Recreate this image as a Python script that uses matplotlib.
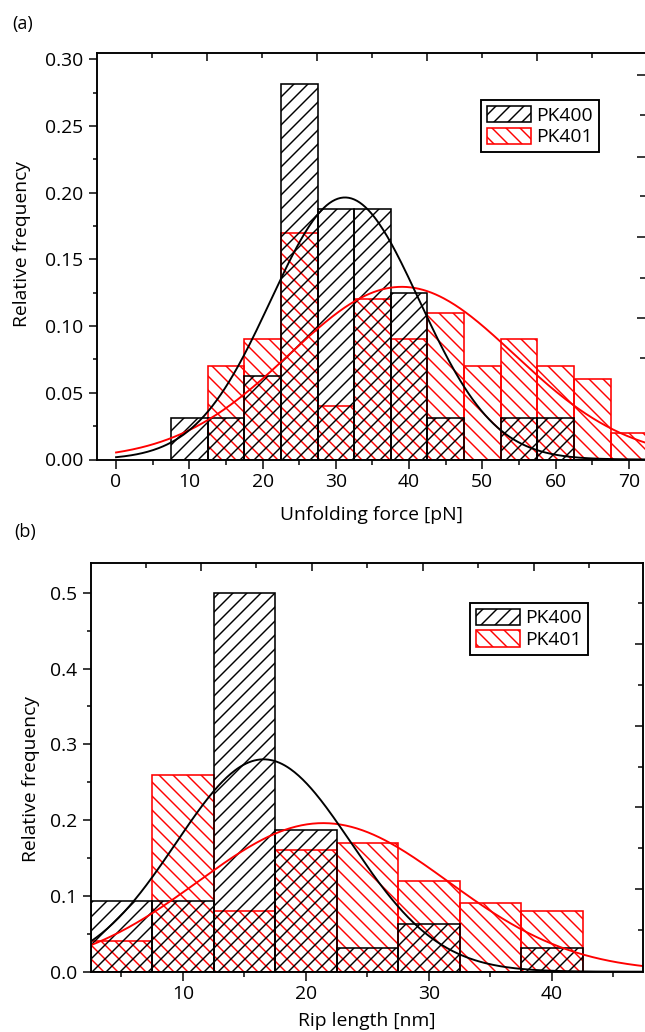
import numpy as np
import matplotlib
matplotlib.use('Agg')
from matplotlib import pyplot as plt
from matplotlib.ticker import FixedLocator, MultipleLocator

# (a) unfolding force, bins of 5 pN
force_centers = [10, 15, 20, 25, 30, 35, 40, 45, 50, 55, 60, 65, 70]
force_pk400 = [1/32, 1/32, 2/32, 9/32, 6/32, 6/32, 4/32, 1/32, 0, 1/32, 1/32, 0, 0]
force_pk401 = [0, 0.07, 0.09, 0.17, 0.04, 0.12, 0.09, 0.11, 0.07, 0.09, 0.07, 0.06, 0.02]

# (b) rip length, bins of 5 nm
rip_centers = [5, 10, 15, 20, 25, 30, 35, 40]
rip_pk400 = [3/32, 3/32, 16/32, 6/32, 1/32, 2/32, 0, 1/32]
rip_pk401 = [0.04, 0.26, 0.08, 0.16, 0.17, 0.12, 0.09, 0.08]

BIN = 5
DPI = 84          # hatch spacing scales with dpi
RED = '#ff0000'


def pt(n):
    # pixels -> points at this dpi
    return n * 72 / DPI


FS = pt(19.2)

plt.rcParams['font.family'] = ['Open Sans', 'DejaVu Sans']
plt.rcParams['font.size'] = FS
plt.rcParams['hatch.linewidth'] = pt(1.45)
plt.rcParams['axes.linewidth'] = pt(1.9)


def normal_fit(centers, freq, x):
    # gaussian with the histogram's mean and sd, scaled to the bin width
    c = np.asarray(centers, float)
    f = np.asarray(freq, float)
    f = f / f.sum()
    mu = np.sum(c * f)
    sd = np.sqrt(np.sum((c - mu) ** 2 * f))
    return BIN / (sd * np.sqrt(2 * np.pi)) * np.exp(-(x - mu) ** 2 / (2 * sd ** 2))


def px_axes(fig, left, right, top, bottom):
    W, H = 645, 1032
    return fig.add_axes([left / W, 1 - bottom / H, (right - left) / W, (bottom - top) / H])


def panel(ax, centers, pk400, pk401, xfit):
    r = ax.bar(centers, pk401, width=BIN, fill=False, hatch='\\\\', edgecolor=RED,
               linewidth=pt(1.6), label='PK401')
    b = ax.bar(centers, pk400, width=BIN, fill=False, hatch='//', edgecolor='black',
               linewidth=pt(1.6), label='PK400')
    ax.plot(xfit, normal_fit(centers, pk401, xfit), color=RED, lw=pt(1.9))
    ax.plot(xfit, normal_fit(centers, pk400, xfit), color='black', lw=pt(1.9))
    ax.tick_params(which='both', direction='out', top=False, right=False, width=pt(1.5))
    ax.tick_params(which='major', length=pt(8.5), pad=pt(5))
    ax.tick_params(which='minor', length=pt(4.5))
    return [b, r]


def frame_ticks(ax, xmaj, xmin, ymaj, ymin):
    top = ax.secondary_xaxis('top')
    top.set_xticks(xmaj)
    top.xaxis.set_minor_locator(FixedLocator(xmin))
    top.tick_params(which='both', direction='in', labeltop=False, width=pt(1.5))
    top.tick_params(which='major', length=pt(8))
    top.tick_params(which='minor', length=pt(5))
    top.spines['top'].set_visible(False)
    right = ax.secondary_yaxis('right')
    right.set_yticks(ymaj)
    right.yaxis.set_minor_locator(FixedLocator(ymin))
    right.tick_params(which='both', direction='in', labelright=False, width=pt(1.5))
    right.tick_params(which='major', length=pt(8))
    right.tick_params(which='minor', length=pt(5))
    right.spines['right'].set_visible(False)


def labels(ax, xlabel, xy_x, xy_y):
    ax.set_xlabel(xlabel)
    ax.set_ylabel('Relative frequency')
    ax.xaxis.label.set_va('center')
    ax.yaxis.label.set_va('center')
    ax.xaxis.set_label_coords(*xy_x)
    ax.yaxis.set_label_coords(*xy_y)


def legend(ax, handles, anchor):
    leg = ax.legend(handles=handles, loc='upper right', bbox_to_anchor=anchor,
                    borderaxespad=0, fancybox=False, framealpha=1, edgecolor='black',
                    handlelength=2.3, handleheight=0.95, handletextpad=0.3,
                    labelspacing=0.15, borderpad=0.3, fontsize=FS)
    leg.get_frame().set_linewidth(pt(1.9))


fig = plt.figure(figsize=(645 / DPI, 1032 / DPI), dpi=DPI)

# ---- (a)
ax1 = px_axes(fig, 97, 645, 53.3, 459.5)
h = panel(ax1, force_centers, force_pk400, force_pk401, np.linspace(0, 75, 400))
ax1.set_xlim(-2.6, 72.2)
ax1.set_ylim(0, 0.3045)
ax1.xaxis.set_major_locator(MultipleLocator(10))
ax1.xaxis.set_minor_locator(MultipleLocator(5))
ax1.yaxis.set_major_locator(MultipleLocator(0.05))
ax1.yaxis.set_minor_locator(MultipleLocator(0.025))
ax1.yaxis.set_major_formatter(lambda v, p: f'{v:.2f}')
ax1.spines['right'].set_visible(False)
frame_ticks(ax1, [12.4, 27.4, 42.4, 57.4], [4.9, 19.9, 34.9, 49.9, 64.9],
            [0.2884, 0.2270, 0.1666, 0.1058], [0.2580, 0.1972, 0.1364, 0.0759])
labels(ax1, 'Unfolding force [pN]', (0.5, -0.137), (-0.137, 0.53))
legend(ax1, h, (0.916, 0.885))
fig.text(12 / 645, 1 - 24 / 1032, '(a)', va='center', ha='left', fontsize=pt(18))

# ---- (b)
ax2 = px_axes(fig, 90.7, 643, 562.7, 971.7)
h = panel(ax2, rip_centers, rip_pk400, rip_pk401, np.linspace(2.5, 47.5, 400))
ax2.set_xlim(2.5, 47.42)
ax2.set_ylim(0, 0.5396)
ax2.xaxis.set_major_locator(MultipleLocator(10))
ax2.xaxis.set_minor_locator(MultipleLocator(5))
ax2.yaxis.set_major_locator(MultipleLocator(0.1))
ax2.yaxis.set_minor_locator(MultipleLocator(0.05))
ax2.yaxis.set_major_formatter(lambda v, p: f'{v:.1f}')
frame_ticks(ax2, [11.46, 20.49, 29.51, 38.54], [7.0, 15.95, 24.95, 33.97, 43.0],
            [0.432, 0.3245, 0.2168, 0.1092], [0.4868, 0.378, 0.2705, 0.1628, 0.0551])
labels(ax2, 'Rip length [nm]', (0.5, -0.12), (-0.108, 0.47))
legend(ax2, h, (0.9004, 0.902))
fig.text(14 / 645, 1 - 532 / 1032, '(b)', va='center', ha='left', fontsize=pt(18))

fig.savefig('out.png', dpi=DPI)
